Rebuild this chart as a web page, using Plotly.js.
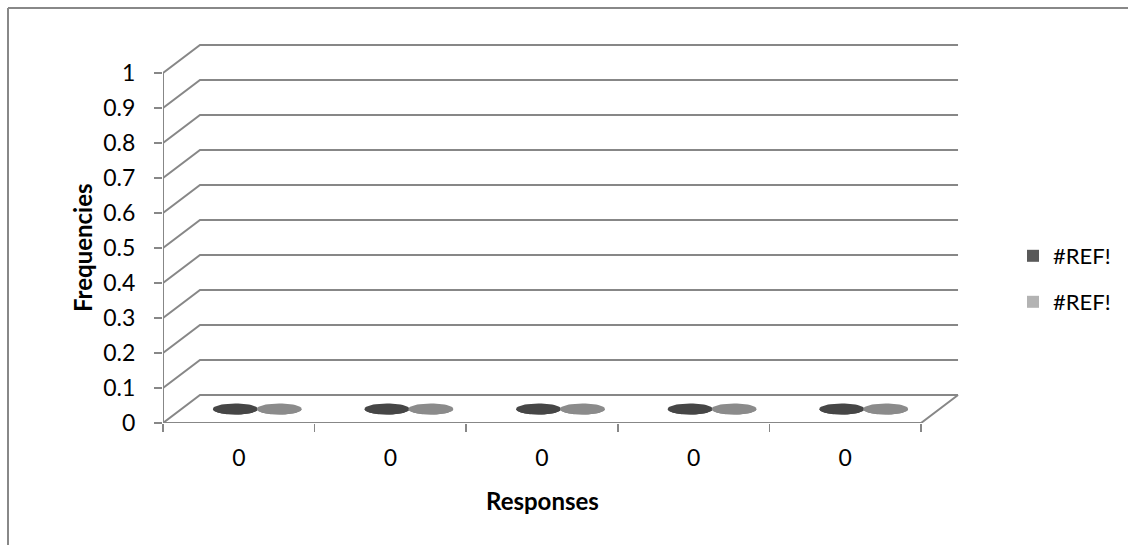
<!DOCTYPE html>
<html>
<head>
<meta charset="utf-8">
<script src="https://cdn.plot.ly/plotly-3.0.1.min.js"></script>
<style>
  html, body { margin: 0; padding: 0; background: #fff; }
  #chart { width: 1128px; height: 545px; }
</style>
</head>
<body>
<div id="chart"></div>
<script>
// Response categories along the floor of the 3-D column chart
const categories = ["0", "0", "0", "0", "0"];

// Two series, both labelled by a broken reference
const seriesNames = ["#REF!", "#REF!"];
const seriesA = [0, 0, 0, 0, 0];
const seriesB = [0, 0, 0, 0, 0];

// Frequency axis ticks
const yTickVals = [0, 0.1, 0.2, 0.3, 0.4, 0.5, 0.6, 0.7, 0.8, 0.9, 1];
const yTickText = ["0", "0.1", "0.2", "0.3", "0.4", "0.5", "0.6", "0.7", "0.8", "0.9", "1"];

// ---- drawing helpers ----
const n = categories.length;
const DX = 0.244;   // oblique depth offset, in category units
const DY = 0.08;    // oblique depth offset, in frequency units
const RX = 0.148;   // column radius (horizontal)
const RY = 0.016;   // column radius (vertical squash of the top ellipse)
const GAP = 0.29;   // distance between the two columns of a category
const lineCol = "#878787";
const FONT = "Lato, 'Open Sans', sans-serif";

// Walls and floor of the 3-D box
const fx = [], fy = [];
function seg(pts) { pts.forEach(p => { fx.push(p[0]); fy.push(p[1]); }); fx.push(null); fy.push(null); }
yTickVals.forEach(v => seg([[0, v], [DX, v + DY], [n + DX, v + DY]]));
seg([[0, 0], [0, yTickVals[yTickVals.length - 1]]]);
seg([[0, 0], [n, 0], [n + DX, DY]]);

const traces = [{
  x: fx, y: fy, mode: "lines", type: "scatter",
  line: { color: lineCol, width: 2 },
  hoverinfo: "skip", showlegend: false
}];

// Cylinder: side body plus top ellipse, built from a value
function cylinder(cx, v, sideCol, topCol) {
  const base = DY / 2, top = v + DY / 2, N = 48;
  const sx = [cx - RX], sy = [top];
  for (let k = 0; k <= N; k++) {
    const t = Math.PI + Math.PI * k / N;
    sx.push(cx + RX * Math.cos(t)); sy.push(base + RY * Math.sin(t));
  }
  sx.push(cx + RX); sy.push(top);
  const ex = [], ey = [];
  for (let k = 0; k <= N; k++) {
    const t = 2 * Math.PI * k / N;
    ex.push(cx + RX * Math.cos(t)); ey.push(top + RY * Math.sin(t));
  }
  traces.push({ x: sx, y: sy, type: "scatter", mode: "lines", fill: "toself",
    fillcolor: sideCol, line: { width: 0, color: sideCol }, hoverinfo: "skip", showlegend: false });
  traces.push({ x: ex, y: ey, type: "scatter", mode: "lines", fill: "toself",
    fillcolor: topCol, line: { width: 0, color: topCol }, hoverinfo: "skip", showlegend: false });
}

const series = [
  { name: seriesNames[0], values: seriesA, side: "#3a3a3a", top: "#464646", legendCol: "#595959", legend: "legend" },
  { name: seriesNames[1], values: seriesB, side: "#7a7a7a", top: "#8b8b8b", legendCol: "#b3b3b3", legend: "legend2" }
];

series.forEach((s, si) => {
  s.values.forEach((v, i) => {
    const cx = i + 0.5 + (si - 0.5) * GAP + DX / 2;
    cylinder(cx, v, s.side, s.top);
  });
});

// Legend entries
series.forEach((s, si) => {
  traces.push({
    type: "bar", name: s.name, legend: s.legend,
    x: s.values.map((v, i) => i + 0.5 + (si - 0.5) * GAP),
    y: s.values, width: 0.2,
    marker: { color: s.legendCol, line: { width: 0 } },
    hoverinfo: "skip", showlegend: true
  });
});

const layout = {
  width: 1128, height: 545,
  margin: { l: 163, r: 168, t: 42, b: 122 },
  paper_bgcolor: "#ffffff", plot_bgcolor: "#ffffff",
  showlegend: true,
  font: { family: FONT, color: "#000000", size: 23 },
  xaxis: {
    range: [0, 5.257], fixedrange: true,
    tickmode: "array",
    tickvals: categories.map((c, i) => i + 0.5),
    ticktext: categories,
    ticks: "outside", ticklen: 0, tickcolor: "rgba(0,0,0,0)",
    ticklabelstandoff: 14,
    minor: {
      tickmode: "array",
      tickvals: categories.map((c, i) => i).concat([n]),
      ticks: "outside", ticklen: 8, tickwidth: 1.6, tickcolor: lineCol, showgrid: false
    },
    tickfont: { family: FONT, size: 23, color: "#000000" },
    showgrid: false, zeroline: false, showline: false
  },
  yaxis: {
    range: [0, 1.0886], fixedrange: true,
    tickmode: "array", tickvals: yTickVals, ticktext: yTickText,
    ticks: "outside", ticklen: 8, tickwidth: 1.6, tickcolor: lineCol,
    ticklabelstandoff: 14,
    tickfont: { family: FONT, size: 23, color: "#000000" },
    showgrid: false, zeroline: false, showline: false
  },
  legend: {
    x: (1013 - 163) / 797, xanchor: "left", y: (423 - 256) / 381, yanchor: "middle",
    font: { family: FONT, size: 22, color: "#000000" }, bgcolor: "rgba(0,0,0,0)"
  },
  legend2: {
    x: (1013 - 163) / 797, xanchor: "left", y: (423 - 302) / 381, yanchor: "middle",
    font: { family: FONT, size: 22, color: "#000000" }, bgcolor: "rgba(0,0,0,0)"
  },
  annotations: [
    { text: "<b>Responses</b>", xref: "x", yref: "paper", x: n / 2, y: 0,
      xanchor: "center", yanchor: "middle", yshift: -77, showarrow: false,
      font: { family: FONT, size: 24, color: "#000000" } },
    { text: "<b>Frequencies</b>", xref: "paper", yref: "y", x: 0, y: 0.5,
      xanchor: "center", yanchor: "middle", xshift: -81, textangle: -90, showarrow: false,
      font: { family: FONT, size: 24, color: "#000000" } }
  ],
  shapes: [
    // chart area border (top and left edges are inside the frame)
    { type: "line", xref: "paper", yref: "paper",
      x0: (8 - 163) / 797, y0: (423 - 8) / 381, x1: (1140 - 163) / 797, y1: (423 - 8) / 381,
      line: { color: "#888888", width: 2 } },
    { type: "line", xref: "paper", yref: "paper",
      x0: (8 - 163) / 797, y0: (423 - 8) / 381, x1: (8 - 163) / 797, y1: (423 - 560) / 381,
      line: { color: "#888888", width: 2 } }
  ]
};

Plotly.newPlot("chart", traces, layout, { staticPlot: true, displayModeBar: false });
</script>
</body>
</html>
